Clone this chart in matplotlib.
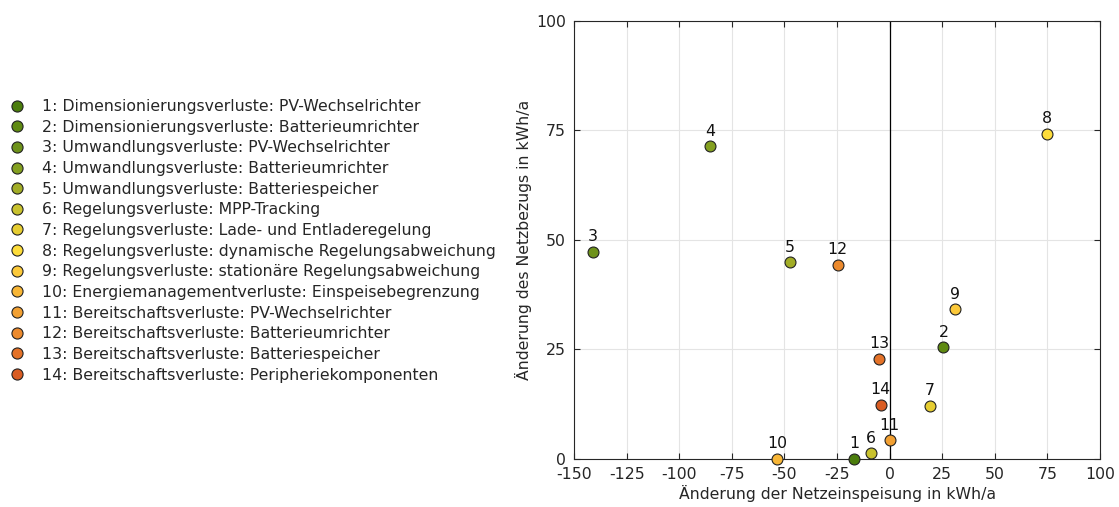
import matplotlib
matplotlib.use("Agg")
import matplotlib.pyplot as plt
from matplotlib.lines import Line2D

# Verlustarten (Legende)
labels = [
    "Dimensionierungsverluste: PV-Wechselrichter",
    "Dimensionierungsverluste: Batterieumrichter",
    "Umwandlungsverluste: PV-Wechselrichter",
    "Umwandlungsverluste: Batterieumrichter",
    "Umwandlungsverluste: Batteriespeicher",
    "Regelungsverluste: MPP-Tracking",
    "Regelungsverluste: Lade- und Entladeregelung",
    "Regelungsverluste: dynamische Regelungsabweichung",
    "Regelungsverluste: stationäre Regelungsabweichung",
    "Energiemanagementverluste: Einspeisebegrenzung",
    "Bereitschaftsverluste: PV-Wechselrichter",
    "Bereitschaftsverluste: Batterieumrichter",
    "Bereitschaftsverluste: Batteriespeicher",
    "Bereitschaftsverluste: Peripheriekomponenten",
]

# Änderung der Netzeinspeisung / des Netzbezugs in kWh/a
einspeisung = [-17.0, 25.6, -141.0, -85.4, -47.3, -8.7, 19.1, 74.9, 31.0, -53.6, 0.0, -24.7, -4.9, -4.3]
bezug = [0.0, 25.5, 47.3, 71.4, 44.9, 1.3, 12.2, 74.3, 34.2, 0.0, 4.3, 44.3, 22.9, 12.4]

colors = ["#4b7d0c", "#5f8a12", "#6e921a", "#84a020", "#a2ad26", "#c9c22e", "#e6cd31",
          "#fddc3a", "#fcc93a", "#f8b636", "#f2a032", "#ec8a2d", "#e47228", "#d95c22"]

plt.rcParams["font.family"] = ["DejaVu Sans"]
plt.rcParams["axes.unicode_minus"] = False

fs = 11.3
fig = plt.figure(figsize=(11.19, 5.07), dpi=100)
ax = fig.add_axes([0.513, 0.0947, 0.47, 0.864])

ax.axvline(0, color="black", lw=0.9, zorder=1)
for i in range(len(labels)):
    ax.scatter(einspeisung[i], bezug[i], s=62, color=colors[i], edgecolor="#222222",
               linewidth=0.8, zorder=3, clip_on=False)
    ax.annotate(str(i + 1), (einspeisung[i], bezug[i]), xytext=(0, 5.5),
                textcoords="offset points", ha="center", va="bottom", fontsize=fs,
                color="#111111")

ax.set_xlim(-150, 100)
ax.set_ylim(0, 100)
ax.set_xticks(range(-150, 101, 25))
ax.set_yticks(range(0, 101, 25))
ax.grid(True, color="#e4e4e4", lw=0.8)
ax.set_axisbelow(True)
ax.tick_params(direction="in", top=True, right=True, length=4, colors="#262626",
               labelsize=fs, labelcolor="#262626", pad=6)
for sp in ax.spines.values():
    sp.set_color("#262626")
    sp.set_linewidth(0.8)
ax.set_xlabel("Änderung der Netzeinspeisung in kWh/a", fontsize=fs, color="#262626", labelpad=2)
ax.set_ylabel("Änderung des Netzbezugs in kWh/a", fontsize=fs, color="#262626", labelpad=3)

handles = [Line2D([], [], marker="o", ls="", markersize=8, markerfacecolor=c,
                  markeredgecolor="#222222", markeredgewidth=0.8) for c in colors]
names = [f"{i + 1}: {t}" for i, t in enumerate(labels)]
fig.legend(handles, names, loc="upper left", bbox_to_anchor=(0.0, 0.817), frameon=False,
           fontsize=fs, handletextpad=0.9, labelspacing=0.36, borderaxespad=0,
           handlelength=1.4, labelcolor="#262626")

fig.savefig("out.png", dpi=100)
